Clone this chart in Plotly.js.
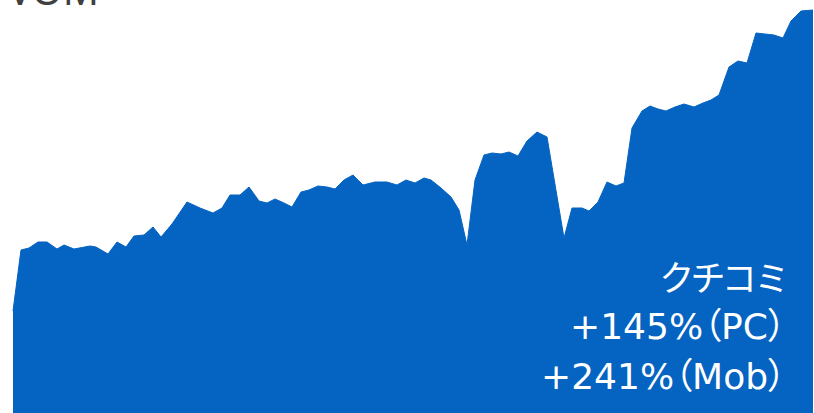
<!DOCTYPE html>
<html>
<head>
<meta charset="utf-8">
<script src="https://cdn.plot.ly/plotly-3.0.1.min.js"></script>
<style>
html,body{margin:0;padding:0;background:#fff;overflow:hidden;}
#chart{width:814px;height:413px;}
#chart .annotation-text{font-feature-settings:"palt" 1;}
</style>
</head>
<body>
<div id="chart"></div>
<script>
// weekly time index
const weeks = [13,21,29,38,47,57,64,74,90,96,108,117,126,134,144,153,161,172,187,200,213,222,230,240,249,259,267,275,284,292,301,309,318,327,335,344,353,363,375,387,397,406,415,424,431,441,451,459,467,475,484,492,501,509,518,527,537,547,564,572,582,589,598,607,616,624,632,642,650,658,666,675,684,694,703,711,719,729,738,747,756,774,783,791,801,813];
// VOM volume (relative units)
const heights = [311,250,248,242,242,249,245,249,246,247,254,242,247,236,235,227,237,224,202,208,213,208,195,195,187,201,203,199,203,207,192,190,186,187,189,180,175,185,182,182,185,180,183,178,180,188,197,210,245,180,155,153,154,152,156,141,132,137,238,208,208,211,202,182,186,183,128,111,106,109,111,107,104,107,103,100,95,67,61,63,33,35,38,21,11,10];
const volume = heights.map(h => 413 - h);

const titleText = "VOM";
const noteLines = ["クチコミ", "+145%（PC）", "+241%（Mob）"];

const trace = {
  x: weeks,
  y: volume,
  type: "scatter",
  mode: "lines",
  fill: "tozeroy",
  fillcolor: "#0563C1",
  line: {color: "#0563C1", width: 1},
  hoverinfo: "skip"
};

const noteY = [275, 326, 376];
const noteX = [795, 806, 806];
const noteFont = [
  {family: "Noto Sans CJK JP, sans-serif", size: 35, color: "#ffffff"},
  {family: "DejaVu Sans, Noto Sans CJK JP, sans-serif", size: 36, color: "#ffffff"},
  {family: "DejaVu Sans, Noto Sans CJK JP, sans-serif", size: 36, color: "#ffffff"}
];
const annotations = [
  {
    text: titleText, xref: "paper", yref: "paper", x: 0, y: 1,
    xanchor: "left", yanchor: "bottom", xshift: 6, yshift: -19,
    showarrow: false,
    font: {family: "Noto Sans, sans-serif", size: 40, color: "#404040"}
  }
].concat(noteLines.map((t, i) => ({
  text: t, xref: "paper", yref: "paper", x: noteX[i]/814, y: 1 - noteY[i]/413,
  xanchor: "right", yanchor: "middle", showarrow: false,
  font: noteFont[i]
})));

const layout = {
  width: 814, height: 413,
  margin: {l: 0, r: 0, t: 0, b: 0},
  paper_bgcolor: "#ffffff", plot_bgcolor: "#ffffff",
  showlegend: false,
  xaxis: {range: [0, 814], visible: false, fixedrange: true},
  yaxis: {range: [0, 413], visible: false, fixedrange: true},
  annotations: annotations
};

Plotly.newPlot("chart", [trace], layout, {staticPlot: true, displayModeBar: false});
</script>
</body>
</html>
